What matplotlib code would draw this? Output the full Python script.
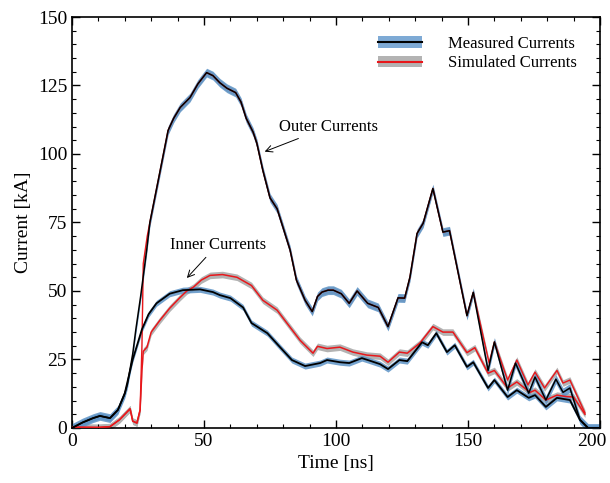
import matplotlib
matplotlib.use("Agg")
import numpy as np
from matplotlib import pyplot as plt
from matplotlib.patches import Patch
from matplotlib.lines import Line2D
from matplotlib.ticker import MultipleLocator
import matplotlib.transforms as mtransforms

# measured outer current (ns, kA)
meas_outer_t = [0, 4, 8, 10.6, 14.4, 17.4, 20, 21, 23, 24.2, 26, 28.3, 29.5, 33, 36.4,
                38.5, 41, 44.7, 47.7, 51, 53.4, 56, 58.7, 62, 64, 66, 68.6, 70, 72.3,
                75, 77.7, 80, 82.6, 85, 88.3, 91, 93, 94.7, 97, 99, 102, 105, 108,
                112, 116, 119.7, 123.5, 126, 128, 130.7, 133, 136.7, 140.5, 143,
                149.6, 152, 157.6, 160, 165, 168, 173, 175.4, 179.5, 183.3, 186,
                188.6, 192.4, 195.5, 200]
meas_outer_i = [0, 2, 3.6, 4.4, 3.6, 6.6, 12.5, 16, 27, 36, 48, 65, 75, 92, 108.6,
                113, 117, 120.6, 125.6, 129.7, 128.6, 126, 124, 122.4, 119, 113, 108,
                104, 94, 84, 80, 73, 65, 54, 46.6, 42.5, 48, 49.6, 50.3, 50.3, 49,
                45.5, 50, 45.5, 44, 37, 47.5, 47.4, 55, 71, 74.7, 87.4, 71.5, 72,
                41, 49.5, 21, 31.4, 13.8, 23.7, 12.7, 18.6, 10.2, 17.8, 13,
                14.6, 3, 0, 0]

# simulated outer current
sim_outer_t = [0, 10, 14.4, 18, 22, 23, 24.6, 25.8, 26.5, 27, 28.5, 29.5, 33, 36.4,
               38.5, 41, 44.7, 47.7, 51, 53.4, 56, 58.7, 62, 64, 66, 68.6, 70, 72.3,
               75, 77.7, 80, 82.6, 85, 88.3, 91, 93, 94.7, 97, 99, 102, 105, 108,
               112, 116, 119.7, 123.5, 126, 128, 130.7, 133, 136.7, 140.5, 143,
               149.6, 152, 158, 160, 165, 168.5, 172.7, 175.4, 179, 183.7, 186,
               188.6, 194.3]
sim_outer_i = [0.3, 0.2, 0.5, 3, 7, 2.5, 1.8, 6.6, 30, 60, 70, 75, 92, 108.6,
               113, 117, 120.6, 125.6, 129.7, 128.6, 126, 124, 122.4, 119, 113, 108,
               104, 94, 84, 80, 73, 65, 54, 46.6, 42.5, 48, 49.6, 50.3, 50.3, 49,
               45.5, 50, 45.5, 44, 37, 47.5, 47.4, 55, 71, 74.7, 87.4, 71.5, 72,
               41, 49.5, 23.7, 31.4, 17.5, 24.8, 15.7, 20.4, 14.6, 21, 16.4,
               17.5, 5.5]

# measured inner current
meas_inner_t = [0, 4, 8, 10.6, 14.4, 17.4, 20, 23, 26.5, 29, 32, 37, 42, 48.5, 53.4,
                56, 60, 64.8, 68, 74, 78.8, 83.3, 88.3, 94, 96.6, 101.5, 105, 109.8,
                113, 116.7, 119.7, 124, 127, 132.6, 134.8, 138, 142, 145, 149.6,
                152, 157.6, 160, 165, 168.5, 173, 175.4, 179.5, 183.7, 188.6, 192.4,
                195.5, 200]
meas_inner_i = [0, 2, 3.6, 4.4, 3.6, 6.6, 12.7, 25, 36, 41.5, 45.5, 49, 50.3, 50.6,
                49.6, 48.5, 47.4, 44, 38.3, 34.6, 29.5, 24.8, 22.6, 23.7, 24.8, 24,
                23.7, 25.5, 24.5, 23.3, 21.5, 24.8, 24.4, 31.3, 30.2, 34.6, 27.7,
                30.2, 22.3, 24, 14.6, 17.5, 11.3, 13.8, 11, 12, 7.7, 11, 10.2, 3,
                0, 0]

# simulated inner current
sim_inner_t = [0, 10, 14.4, 18, 22, 23, 24.6, 25.8, 26.5, 27, 28.4, 30, 33.3, 37, 41,
               43.5, 46, 49, 52.3, 57, 62.5, 68, 72.3, 77.7, 81.4, 86.4, 91.3, 93,
               96.6, 101.5, 106.4, 111.7, 116.7, 119.7, 124, 127, 131.8, 136.7,
               140.5, 144.3, 149.6, 152.6, 157.6, 160, 165, 168.5, 173.5, 175.4,
               179.5, 183.7, 187, 190, 194.3]
sim_inner_i = [0.3, 0.2, 0.5, 3, 7, 2.5, 1.8, 6.6, 21, 28, 29.5, 35, 39.3, 43.7, 47.7,
               50, 51.4, 54, 55.7, 56, 55, 52, 46.6, 43, 38.3, 32, 27.3, 29.8,
               29, 29.5, 27.7, 26.6, 26.2, 24, 27.7, 27.3, 31, 37,
               35, 35, 27.5, 29.3, 20, 21, 14.6, 16.8, 13, 13.8,
               10.2, 12, 11.5, 11.3, 5]

outer_err = 1.6
inner_err = 1.1
sim_err = 1.2

plt.rcParams['font.family'] = ['Liberation Serif', 'DejaVu Serif']

fig = plt.figure(figsize=(6.1, 4.83), dpi=100)
ax = fig.add_axes([0.118, 0.1139, 0.8656, 0.8509])

band_blue = '#5d93c6'
band_grey = '#b3b3b3'
red = '#e8171b'

for t, v in [(sim_outer_t, sim_outer_i), (sim_inner_t, sim_inner_i)]:
    t = np.array(t); v = np.array(v)
    ax.fill_between(t, v - sim_err, v + sim_err, color=band_grey, lw=0, zorder=1)
for t, v, e in [(meas_outer_t, meas_outer_i, outer_err), (meas_inner_t, meas_inner_i, inner_err)]:
    t = np.array(t); v = np.array(v)
    ax.fill_between(t, v - e, v + e, color=band_blue, alpha=0.85, lw=0, zorder=2)

ax.plot(sim_outer_t, sim_outer_i, color=red, lw=1.0, zorder=3)
ax.plot(sim_inner_t, sim_inner_i, color=red, lw=1.1, zorder=3)
ax.plot(meas_outer_t, meas_outer_i, color='black', lw=1.1, zorder=4)
ax.plot(meas_inner_t, meas_inner_i, color='black', lw=1.3, zorder=4)

ax.annotate('Outer Currents', xy=(72, 100.5), xytext=(78.5, 108.5), fontsize=12,
            arrowprops=dict(arrowstyle='->', color='black', lw=0.7))
ax.annotate('Inner Currents', xy=(42.8, 54), xytext=(37, 65.5), fontsize=12,
            arrowprops=dict(arrowstyle='->', color='black', lw=0.7))

ax.set_xlim(0, 200)
ax.set_ylim(0, 150)
ax.set_xticks([0, 50, 100, 150, 200])
ax.xaxis.set_minor_locator(MultipleLocator(10))
ax.yaxis.set_major_locator(MultipleLocator(25))
ax.yaxis.set_minor_locator(MultipleLocator(5))
ax.tick_params(which='both', direction='in', top=True, right=True, labelsize=14)
ax.tick_params(which='major', length=6, width=1)
ax.tick_params(which='minor', length=3, width=0.8)
for s in ax.spines.values():
    s.set_linewidth(1.2)
ax.set_xlabel('Time [ns]', fontsize=14)
ax.set_ylabel('Current [kA]', fontsize=14)

# last x label sits a little inside the right edge
last = ax.get_xticklabels()[-1]
last.set_transform(last.get_transform() + mtransforms.ScaledTranslation(-0.08, 0, fig.dpi_scale_trans))

h1 = (Patch(color='#7eaad5', lw=0), Line2D([], [], color='black', lw=1.5))
h2 = (Patch(color=band_grey, lw=0), Line2D([], [], color=red, lw=1.5))
ax.legend([h1, h2], ['Measured Currents', 'Simulated Currents'], loc='upper right',
          frameon=False, fontsize=12, handlelength=2.6, handletextpad=1.6,
          bbox_to_anchor=(0.985, 0.99), labelspacing=0.2)

fig.savefig('out.png', dpi=100)
